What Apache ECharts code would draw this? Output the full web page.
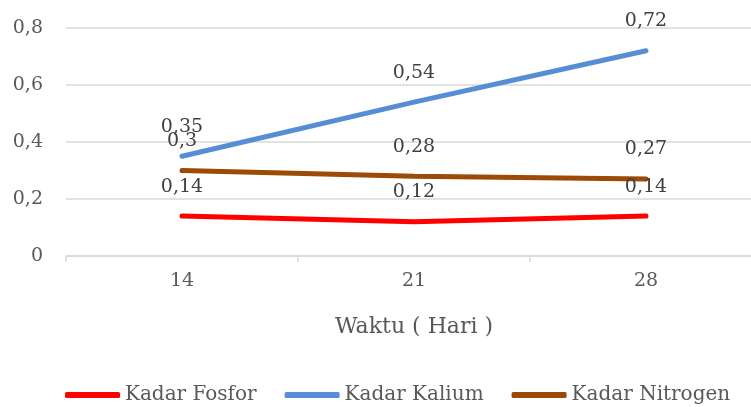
<!DOCTYPE html>
<html>
<head>
<meta charset="utf-8">
<script src="https://cdn.jsdelivr.net/npm/echarts@6/dist/echarts.min.js"></script>
<style>
  html, body { margin: 0; padding: 0; background: #fff; overflow: hidden; }
  #chart { width: 751px; height: 407px; }
</style>
</head>
<body>
<div id="chart"></div>
<script>
// dados
const hari = ['14', '21', '28'];
const fosfor = [0.14, 0.12, 0.14];
const kalium = [0.35, 0.54, 0.72];
const nitrogen = [0.3, 0.28, 0.27];

const fonte = 'DejaVu Serif';
const cinza = '#595959';
const virgula = v => String(v).replace('.', ',');

function serie(nome, dados, cor) {
  return {
    name: nome,
    type: 'line',
    data: dados,
    symbol: 'circle',
    symbolSize: 0,
    showSymbol: true,
    lineStyle: { color: cor, width: 5, cap: 'round' },
    itemStyle: { color: cor },
    label: {
      show: true,
      position: 'top',
      distance: 20,
      color: '#404040',
      fontFamily: fonte,
      fontSize: 19,
      formatter: p => virgula(p.value)
    }
  };
}

const myChart = echarts.init(document.getElementById('chart'));
myChart.setOption({
  animation: false,
  grid: { left: 66, width: 696, top: 28, height: 228, outerBoundsMode: 'none' },
  legend: {
    bottom: -3,
    left: 60,
    icon: 'roundRect',
    itemWidth: 55,
    itemHeight: 6,
    itemGap: 28,
    textStyle: { fontFamily: fonte, fontSize: 20, color: cinza },
    data: ['Kadar Fosfor', 'Kadar Kalium', 'Kadar Nitrogen']
  },
  xAxis: {
    type: 'category',
    data: hari,
    boundaryGap: true,
    name: 'Waktu ( Hari )',
    nameLocation: 'middle',
    nameGap: 60,
    nameTextStyle: { fontFamily: fonte, fontSize: 22, color: cinza },
    axisLine: { lineStyle: { color: '#D9D9D9', width: 1.5 } },
    axisTick: { show: true, length: 6, lineStyle: { color: '#D9D9D9', width: 1.5 } },
    axisLabel: { fontFamily: fonte, fontSize: 19, color: cinza, margin: 16 }
  },
  yAxis: {
    type: 'value',
    min: 0,
    max: 0.8,
    interval: 0.2,
    axisLine: { show: false },
    axisTick: { show: false },
    axisLabel: {
      fontFamily: fonte, fontSize: 19, color: cinza, margin: 23,
      formatter: v => virgula(Math.round(v * 10) / 10)
    },
    splitLine: { lineStyle: { color: '#D9D9D9', width: 1.5 } }
  },
  series: [
    serie('Kadar Fosfor', fosfor, '#FF0000'),
    serie('Kadar Kalium', kalium, '#558ED5'),
    serie('Kadar Nitrogen', nitrogen, '#9C4A06')
  ]
});
</script>
</body>
</html>
